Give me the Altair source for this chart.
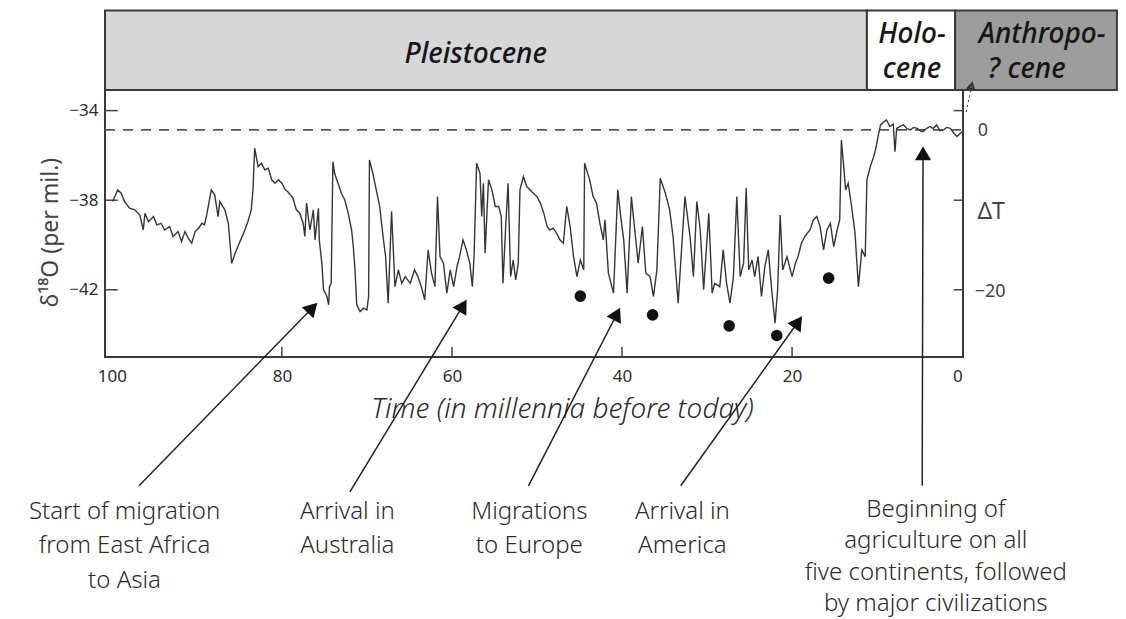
import altair as alt
import pandas as pd

# ---------------- data ----------------
age_ka = [99.9, 99.3, 98.9, 98.5, 97.9, 97.3, 96.7, 96.3, 96.1, 95.7, 95.1, 94.7, 94.2, 93.8, 93.2,
          92.8, 92.2, 91.8, 91.4, 91.0, 90.6, 90.2, 89.8, 89.4, 89.1, 88.8, 88.3, 87.9, 87.5, 87.3,
          86.7, 86.3, 85.9, 85.5, 85.1, 84.5, 84.0, 83.6, 83.4, 83.2, 82.8, 82.4, 82.0, 81.6, 81.2,
          80.8, 80.4, 80.0, 79.6, 79.3, 78.7, 78.3, 77.9, 77.5, 77.3, 77.1, 76.7, 76.3, 76.1, 75.7,
          75.6, 75.3, 75.1, 74.7, 74.5, 74.4, 74.2, 74.0, 73.8, 73.4, 73.0, 72.6, 72.2, 71.8, 71.6,
          71.4, 71.2, 70.8, 70.4, 70.0, 69.8, 69.7, 69.3, 68.9, 68.5, 68.1, 67.8, 67.5, 67.1, 66.7,
          66.3, 65.9, 65.5, 64.9, 64.4, 64.0, 63.6, 63.2, 62.8, 62.4, 62.0, 61.7, 61.4, 61.0, 60.6,
          60.2, 59.8, 59.4, 59.1, 58.7, 58.3, 57.9, 57.6, 57.4, 57.1, 56.7, 56.5, 56.3, 56.1, 55.7,
          55.3, 54.9, 54.5, 54.2, 54.0, 53.7, 53.4, 53.1, 52.8, 52.5, 52.2, 52.0, 51.6, 51.2, 50.6,
          50.0, 49.6, 49.2, 48.8, 48.5, 48.1, 47.7, 47.3, 46.9, 46.5, 46.1, 45.7, 45.3, 44.9, 44.5,
          44.4, 43.8, 43.4, 43.0, 42.6, 42.2, 42.0, 41.6, 41.0, 40.5, 40.2, 39.8, 39.4, 38.9, 38.5,
          38.1, 37.6, 37.2, 36.7, 36.3, 35.9, 35.5, 34.9, 34.4, 34.0, 33.4, 32.6, 32.0, 31.6, 31.2,
          30.8, 30.4, 29.8, 29.4, 29.1, 28.5, 28.1, 27.7, 27.3, 26.9, 26.5, 26.1, 25.7, 25.4, 25.1,
          24.7, 24.4, 24.0, 23.6, 23.2, 22.8, 22.4, 22.0, 21.7, 21.4, 21.1, 20.6, 20.0, 19.6, 19.3,
          18.9, 18.5, 17.9, 17.5, 17.1, 16.7, 16.3, 15.9, 15.5, 15.1, 14.7, 14.4, 14.2, 14.0, 13.7,
          13.4, 13.0, 12.6, 12.2, 11.8, 11.4, 11.2, 10.8, 10.4, 10.2, 9.8, 9.6, 9.2, 8.9, 8.5,
          8.1, 7.9, 7.7, 7.3, 6.9, 6.5, 6.1, 5.7, 5.3, 4.9, 4.6, 4.2, 3.8, 3.4, 3.0,
          2.6, 2.2, 1.8, 1.4, 1.0, 0.6, 0.05]

d18o = [-38.06, -37.54, -37.69, -38.06, -38.36, -38.43, -38.66, -39.33, -38.58, -38.96, -38.73, -39.10, -39.03, -39.33, -39.18,
        -39.62, -39.40, -39.85, -39.40, -39.70, -39.92, -39.40, -39.25, -39.03, -39.10, -38.58, -37.54, -37.76, -38.73, -38.06,
        -38.43, -39.03, -40.81, -40.37, -40.00, -39.47, -38.96, -38.43, -37.54, -35.68, -36.50, -36.35, -36.65, -36.57, -37.09,
        -37.24, -37.09, -37.24, -37.54, -37.62, -37.91, -38.43, -38.58, -39.03, -39.62, -38.13, -39.33, -38.43, -39.77, -38.36,
        -39.77, -40.81, -42.00, -42.30, -42.67, -41.86, -41.71, -36.28, -36.80, -37.24, -37.69, -37.99, -38.58, -39.33, -40.07,
        -41.11, -42.67, -42.97, -42.82, -42.90, -42.30, -36.20, -36.80, -37.54, -38.28, -39.62, -40.52, -42.60, -38.50, -41.86,
        -41.11, -41.71, -41.41, -41.71, -41.11, -41.41, -41.86, -42.45, -40.22, -41.26, -41.86, -37.84, -40.52, -40.81, -42.15,
        -41.11, -41.86, -40.96, -40.52, -39.77, -40.22, -40.81, -41.86, -40.52, -36.35, -36.80, -38.73, -37.24, -40.37, -37.09,
        -37.54, -38.28, -38.28, -38.73, -41.71, -39.33, -37.24, -41.41, -40.67, -41.56, -40.81, -37.54, -36.95, -37.39, -37.62,
        -37.84, -38.13, -38.58, -39.18, -39.33, -39.25, -39.47, -39.77, -39.92, -38.28, -39.18, -40.52, -41.41, -40.67, -41.11,
        -36.35, -37.09, -37.84, -38.13, -39.03, -39.77, -38.88, -41.26, -42.15, -37.54, -38.58, -39.77, -42.15, -37.84, -39.33,
        -40.81, -39.18, -41.26, -41.41, -42.30, -41.11, -37.02, -37.69, -38.43, -39.62, -42.60, -37.84, -39.62, -41.41, -38.06,
        -39.33, -42.00, -38.58, -42.15, -41.71, -41.86, -40.22, -41.71, -42.60, -41.41, -37.84, -41.41, -40.81, -37.46, -41.11,
        -40.67, -41.41, -40.52, -42.30, -40.96, -40.22, -42.00, -43.49, -42.00, -38.66, -41.11, -40.52, -41.41, -40.81, -40.52,
        -39.92, -39.62, -39.33, -38.88, -38.73, -39.18, -40.22, -39.33, -39.03, -40.07, -39.33, -38.88, -35.31, -36.20, -37.54,
        -37.24, -38.28, -39.47, -41.86, -40.22, -40.52, -37.09, -36.50, -36.05, -35.75, -35.00, -34.64, -34.50, -34.42, -34.71,
        -34.60, -35.83, -34.79, -34.70, -34.64, -34.80, -34.86, -34.75, -34.79, -34.90, -34.94, -34.80, -34.71, -34.80, -34.64,
        -34.90, -34.86, -34.75, -34.79, -35.00, -35.16, -34.94]

dot_age = [44.9, 36.4, 27.4, 21.8, 15.7]
dot_d18o = [-42.28, -43.12, -43.61, -44.04, -41.48]

holocene_level = -34.86

epochs = ["Pleistocene", "Holocene", "Anthropocene"]
epoch_start = [100.8, 11.2, 0.82]
epoch_end = [11.2, 0.82, -18.2]

header_lines = ["Pleistocene", "Holo-", "cene", "Anthropo-", "? cene"]
header_line_age = [57.2, 5.9, 5.9, -9.4, -7.6]
header_line_y = [-31.87, -30.98, -32.54, -30.98, -32.54]

notes = ["Start of migration\nfrom East Africa\nto Asia",
         "Arrival in\nAustralia",
         "Migrations\nto Europe",
         "Arrival in\nAmerica"]
note_age = [98.5, 72.3, 50.9, 32.9]
note_y = [-52.23, -52.23, -52.23, -52.23]

agri_note = ["Beginning of\nagriculture on all\nfive continents, followed\nby major civilizations"]
agri_age = [3.1]
agri_y = [-52.14]

arrow_from_age = [96.8, 72.0, 51.0, 33.1, 4.7]
arrow_from_y = [-50.75, -51.02, -50.75, -50.75, -50.75]
arrow_to_age = [76.4, 58.7, 40.6, 19.3, 4.6]
arrow_to_y = [-42.80, -42.71, -43.08, -43.44, -35.91]
arrow_angle = [44, 31, 27, 35, 0]

q_from_age, q_from_y, q_to_age, q_to_y, q_angle = [-0.47], [-34.06], [-1.1], [-32.9], [12]

x_ticks = [100, 80, 60, 40, 20, 0]
y_ticks = [-34, -38, -42]
right_numbers = ["0", "−20"]
right_number_age = [-2.44, -3.29]
right_number_y = [-34.89, -42.08]
right_title = ["ΔT"]
right_title_age = [-3.41]
right_title_y = [-38.51]

# ---------------- tables ----------------
line_df = pd.DataFrame({"x": age_ka, "y": d18o})
dot_df = pd.DataFrame({"x": dot_age, "y": dot_d18o})
epoch_df = pd.DataFrame({"epoch": epochs, "x": epoch_start, "x2": epoch_end,
                         "y": [-33.08] * 3, "y2": [-29.53] * 3})
htext_df = pd.DataFrame({"t": header_lines, "x": header_line_age, "y": header_line_y})
note_df = pd.DataFrame({"t": notes, "x": note_age, "y": note_y})
agri_df = pd.DataFrame({"t": agri_note, "x": agri_age, "y": agri_y})
arrow_df = pd.DataFrame({"x": arrow_from_age, "y": arrow_from_y, "x2": arrow_to_age, "y2": arrow_to_y})
head_df = pd.DataFrame({"x": arrow_to_age, "y": arrow_to_y, "angle": arrow_angle})
q_df = pd.DataFrame({"x": q_from_age, "y": q_from_y, "x2": q_to_age, "y2": q_to_y})
qhead_df = pd.DataFrame({"x": q_to_age, "y": q_to_y, "angle": q_angle})
ref_df = pd.DataFrame({"x": [100.8], "x2": [-0.1], "y": [holocene_level]})
lt_df = pd.DataFrame({"x": [100.8] * 3, "x2": [99.3] * 3, "y": y_ticks})
rt_df = pd.DataFrame({"x": [1.0] * 3, "x2": [-0.1] * 3, "y": y_ticks})
bt_df = pd.DataFrame({"x": x_ticks[1:5], "y": [-45.0] * 4, "y2": [-44.55] * 4})
rn_df = pd.DataFrame({"t": right_numbers, "x": right_number_age, "y": right_number_y})
rtt_df = pd.DataFrame({"t": right_title, "x": right_title_age, "y": right_title_y})

FONT = "Noto Sans"
INK = "#2b2b2b"

X = alt.X("x:Q",
          scale=alt.Scale(domain=[-0.1, 100.8], reverse=True, nice=False, zero=False),
          axis=alt.Axis(values=x_ticks, ticks=False, tickSize=0, domain=False, grid=False,
                        labelFont=FONT, labelFontSize=17, labelColor=INK, labelPadding=11,
                        title="Time (in millennia before today)", titleFont=FONT,
                        titleFontStyle="italic", titleFontWeight=300, titleFontSize=28,
                        titleColor=INK, titleX=457, titleY=52, titleBaseline="middle"))
Y = alt.Y("y:Q",
          scale=alt.Scale(domain=[-45.0, -33.08], nice=False, zero=False),
          axis=alt.Axis(values=y_ticks, ticks=False, tickSize=0, domain=False, grid=False,
                        labelFont=FONT, labelFontSize=17, labelColor=INK, labelPadding=7,
                        title="δ¹⁸O (per mil.)", titleFont=FONT, titleFontWeight="normal",
                        titleFontSize=23, titleColor="#444", titleX=-55, titleY=142,
                        titleBaseline="middle", titleAlign="center"))

header = alt.Chart(epoch_df).mark_rect(stroke="#3a3a3a", strokeWidth=2).encode(
    x=X, x2="x2:Q", y=Y, y2="y2:Q",
    fill=alt.Fill("epoch:N", scale=alt.Scale(domain=epochs, range=["#d7d7d7", "#ffffff", "#9d9d9d"]),
                  legend=None))
header_text = alt.Chart(htext_df).mark_text(font=FONT, fontSize=28, fontStyle="italic", fontWeight=500,
                                            color="#161616", align="center", baseline="alphabetic").encode(
    x=X, y=Y, text="t:N")

ref = alt.Chart(ref_df).mark_rule(color="#555", strokeWidth=1.6, strokeDash=[10, 8]).encode(
    x=X, x2="x2:Q", y=Y)
lticks = alt.Chart(lt_df).mark_rule(color="#444", strokeWidth=1.5).encode(x=X, x2="x2:Q", y=Y)
rticks = alt.Chart(rt_df).mark_rule(color="#444", strokeWidth=1.5).encode(x=X, x2="x2:Q", y=Y)
bticks = alt.Chart(bt_df).mark_rule(color="#444", strokeWidth=1.5).encode(x=X, y=Y, y2="y2:Q")

line = alt.Chart(line_df).mark_line(color="#363636", strokeWidth=1.4).encode(
    x=X, y=Y, order=alt.Order("x:Q", sort="descending"))
dots = alt.Chart(dot_df).mark_circle(size=135, color="#111", opacity=1).encode(x=X, y=Y)

arrows = alt.Chart(arrow_df).mark_rule(color="#222", strokeWidth=1.5).encode(
    x=X, y=Y, x2="x2:Q", y2="y2:Q")
heads = alt.Chart(head_df).mark_point(shape="triangle-up", filled=True, size=260, color="#111",
                                      opacity=1).encode(
    x=X, y=Y, angle=alt.Angle("angle:Q", scale=None))
qarrow = alt.Chart(q_df).mark_rule(color="#333", strokeWidth=1, strokeDash=[2, 3]).encode(
    x=X, y=Y, x2="x2:Q", y2="y2:Q")
qhead = alt.Chart(qhead_df).mark_point(shape="triangle-up", filled=False, size=40, color="#333",
                                       opacity=1).encode(
    x=X, y=Y, angle=alt.Angle("angle:Q", scale=None))

notes_layer = alt.Chart(note_df).mark_text(font=FONT, fontSize=24, fontWeight=300, color=INK,
                                           align="center", baseline="alphabetic", lineBreak="\n",
                                           lineHeight=34.5).encode(x=X, y=Y, text="t:N")
agri_layer = alt.Chart(agri_df).mark_text(font=FONT, fontSize=24, fontWeight=300, color=INK,
                                          align="center", baseline="alphabetic", lineBreak="\n",
                                          lineHeight=31.5).encode(x=X, y=Y, text="t:N")
right_nums = alt.Chart(rn_df).mark_text(font=FONT, fontSize=18, color="#444", align="center",
                                        baseline="middle").encode(x=X, y=Y, text="t:N")
right_tt = alt.Chart(rtt_df).mark_text(font=FONT, fontSize=23, color="#444", align="center",
                                       baseline="middle").encode(x=X, y=Y, text="t:N")

chart = alt.layer(header, header_text, ref, lticks, rticks, bticks, line, dots, arrows, heads,
                  qarrow, qhead, notes_layer, agri_layer, right_nums, right_tt).properties(
    width=858, height=267,
    autosize=alt.AutoSizeParams(type="none"),
    padding={"left": 97, "top": 82, "right": 155, "bottom": 262},
    background="white",
).configure_view(stroke="#3a3a3a", strokeWidth=2)

chart.save("out.html", embed_options={"renderer": "svg", "actions": False})
